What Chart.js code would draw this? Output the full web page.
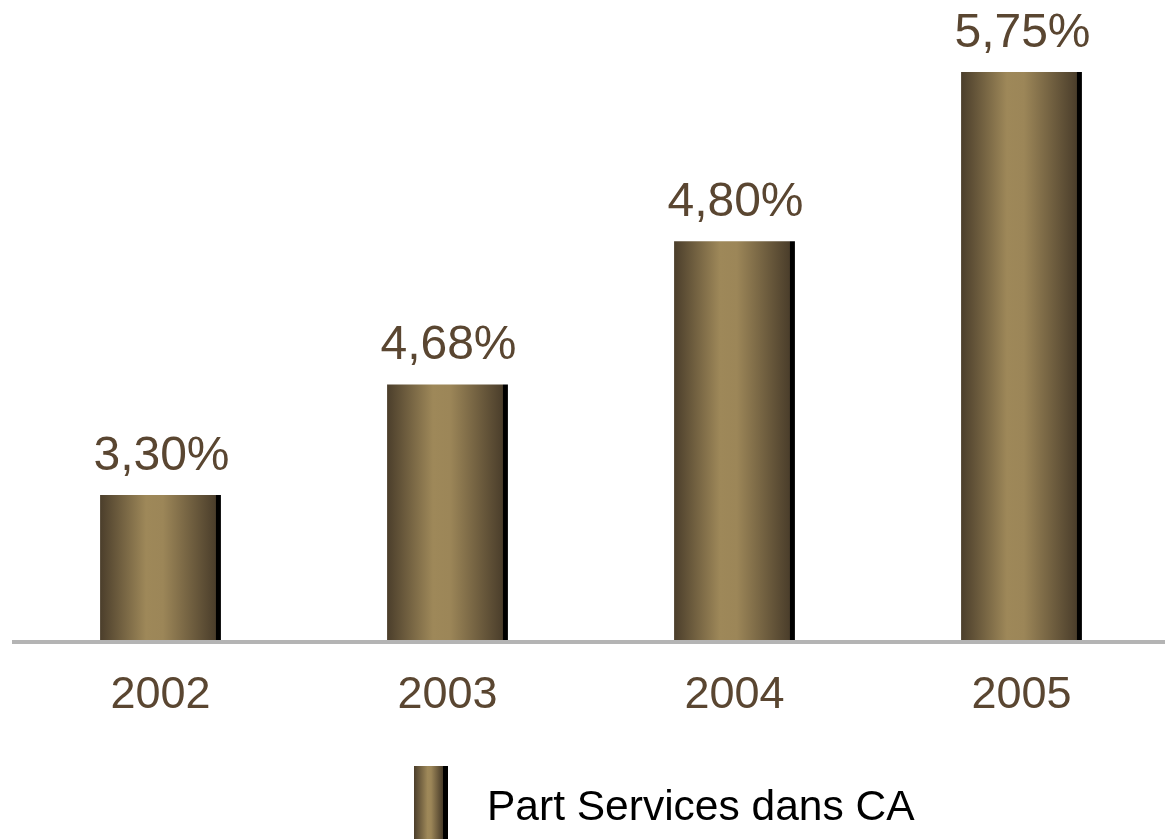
<!DOCTYPE html>
<html>
<head>
<meta charset="utf-8">
<script src="https://cdn.jsdelivr.net/npm/chart.js@4.4.1/dist/chart.umd.min.js"></script>
<style>
  html, body { margin: 0; padding: 0; background: #fff; }
  .wrap { position: relative; width: 1165px; height: 839px; overflow: hidden; }
  .legend {
    position: absolute; left: 414px; top: 766px;
    display: flex; align-items: center;
    font-family: "Liberation Sans", Arial, sans-serif; font-size: 42.5px; color: #000;
  }
  .legend span { position: relative; top: 3px; }
  .swatch {
    width: 34px; height: 73px; margin-right: 39px;
    background: linear-gradient(to right, #4b3e2b 0%, #9e8859 40%, #9c8658 50%, #4b3e2b 84%, #000 85%, #000 100%);
  }
</style>
</head>
<body>
<div class="wrap">
  <canvas id="serviceChart" width="1165" height="839"></canvas>
  <div class="legend"><div class="swatch"></div><span id="legendText"></span></div>
</div>
<script>
// Data
const years = ["2002", "2003", "2004", "2005"];
const shareValues = [3.30, 3.94, 4.77, 5.75];           // bar heights as drawn
const shareLabels = ["3,30%", "4,68%", "4,80%", "5,75%"]; // labels printed above bars
const seriesName = "Part Services dans CA";

const textColor = "#5a4631";
const barPct = 0.421;

document.getElementById("legendText").textContent = seriesName;

function barGradient(context) {
  const chart = context.chart;
  const xScale = chart.scales.x;
  if (!xScale || !chart.chartArea) return "#9e8859";
  const center = xScale.getPixelForValue(context.dataIndex);
  const w = (xScale.width / years.length) * barPct;
  const left = center - w / 2;
  const g = chart.ctx.createLinearGradient(left, 0, left + w, 0);
  g.addColorStop(0, "#4b3e2b");
  g.addColorStop(0.38, "#9e8859");
  g.addColorStop(0.52, "#9c8658");
  g.addColorStop(0.955, "#4b3e2b");
  g.addColorStop(0.958, "#000");
  g.addColorStop(1, "#000");
  return g;
}

// value labels above the bars + axis line
const decorPlugin = {
  id: "decor",
  afterDatasetsDraw(chart) {
    const ctx = chart.ctx;
    const meta = chart.getDatasetMeta(0);
    ctx.save();
    ctx.fillStyle = textColor;
    ctx.font = '48px "Liberation Sans", Arial, sans-serif';
    ctx.textAlign = "center";
    ctx.textBaseline = "alphabetic";
    meta.data.forEach((bar, i) => {
      ctx.fillText(shareLabels[i], bar.x + 1, bar.y - 25);
    });
    const yLine = chart.scales.x.top;
    ctx.fillStyle = "#b4b4b4";
    ctx.fillRect(12, yLine, chart.width - 12, 4);
    ctx.restore();
  }
};

Chart.defaults.font.family = '"Liberation Sans", Arial, sans-serif';

const ctx = document.getElementById("serviceChart").getContext("2d");
const serviceChart = new Chart(ctx, {
  type: "bar",
  data: {
    labels: years,
    datasets: [
      {
        label: seriesName,
        data: shareValues,
        backgroundColor: barGradient,
        borderWidth: 0,
        categoryPercentage: 1,
        barPercentage: barPct,
      },
    ],
  },
  options: {
    responsive: false,
    animation: false,
    layout: { padding: { left: 17, right: 0, top: 0, bottom: 0 } },
    plugins: {
      legend: { display: false },
      tooltip: { enabled: false },
    },
    scales: {
      x: {
        grid: { display: false, drawTicks: false },
        border: { display: false },
        ticks: {
          color: textColor,
          font: { size: 45 },
          padding: 29,
        },
        afterFit(scale) {
          scale.height = 199;
        },
      },
      y: {
        display: false,
        min: 2.46,
        max: 6.167,
      },
    },
  },
  plugins: [decorPlugin],
});
</script>
</body>
</html>
